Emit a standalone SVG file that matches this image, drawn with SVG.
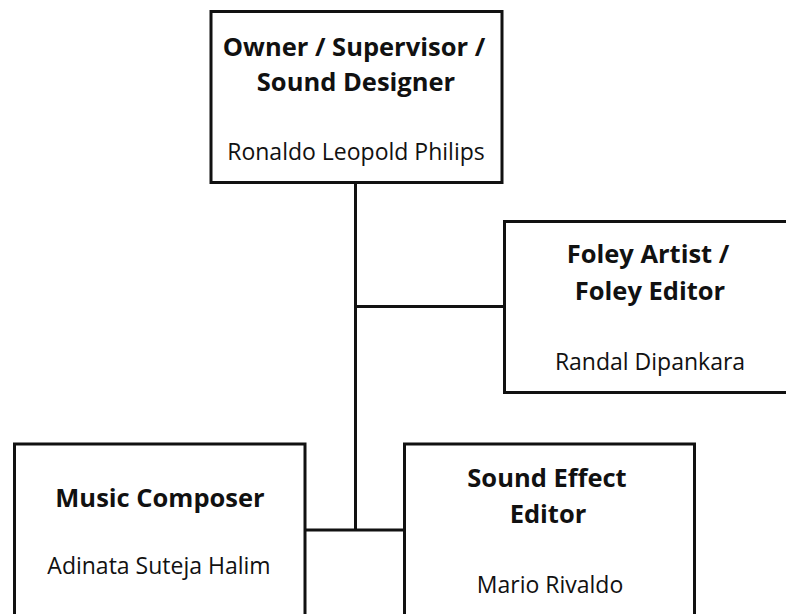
<svg xmlns="http://www.w3.org/2000/svg" width="786" height="614" viewBox="0 0 786 614">
  <style>
    .box { fill: #ffffff; stroke: #111111; stroke-width: 3; }
    .wire { fill: none; stroke: #111111; stroke-width: 3; }
    .title { font-family: "Open Sans", "Noto Sans", sans-serif; font-weight: 700; font-size: 25.5px; fill: #111111; text-anchor: middle; }
    .name { font-family: "Open Sans", "Noto Sans", sans-serif; font-weight: 400; font-size: 23px; fill: #111111; text-anchor: middle; }
  </style>
  <rect width="786" height="614" fill="#ffffff"/>

  <!-- links between the roles -->
  <g id="connectors">
    <line class="wire" x1="355.5" y1="182" x2="355.5" y2="531"/>
    <line class="wire" x1="354" y1="306.5" x2="505" y2="306.5"/>
    <line class="wire" x1="304" y1="530" x2="406" y2="530"/>
  </g>

  <g id="owner">
    <rect class="box" x="211" y="11.5" width="291" height="171"/>
    <text class="title" x="354" y="56">Owner / Supervisor /</text>
    <text class="title" x="356" y="91">Sound Designer</text>
    <text class="name" x="356" y="160">Ronaldo Leopold Philips</text>
  </g>

  <g id="foley">
    <rect class="box" x="504.5" y="221.5" width="292" height="171"/>
    <text class="title" x="648" y="263">Foley Artist /</text>
    <text class="title" x="650" y="300">Foley Editor</text>
    <text class="name" x="650" y="370">Randal Dipankara</text>
  </g>

  <g id="music">
    <rect class="box" x="14.5" y="444" width="290.5" height="200"/>
    <text class="title" x="160" y="507">Music Composer</text>
    <text class="name" x="159" y="574">Adinata Suteja Halim</text>
  </g>

  <g id="sfx">
    <rect class="box" x="404.5" y="444" width="290" height="200"/>
    <text class="title" x="547" y="487">Sound Effect</text>
    <text class="title" x="548" y="523">Editor</text>
    <text class="name" x="550" y="593">Mario Rivaldo</text>
  </g>
</svg>
